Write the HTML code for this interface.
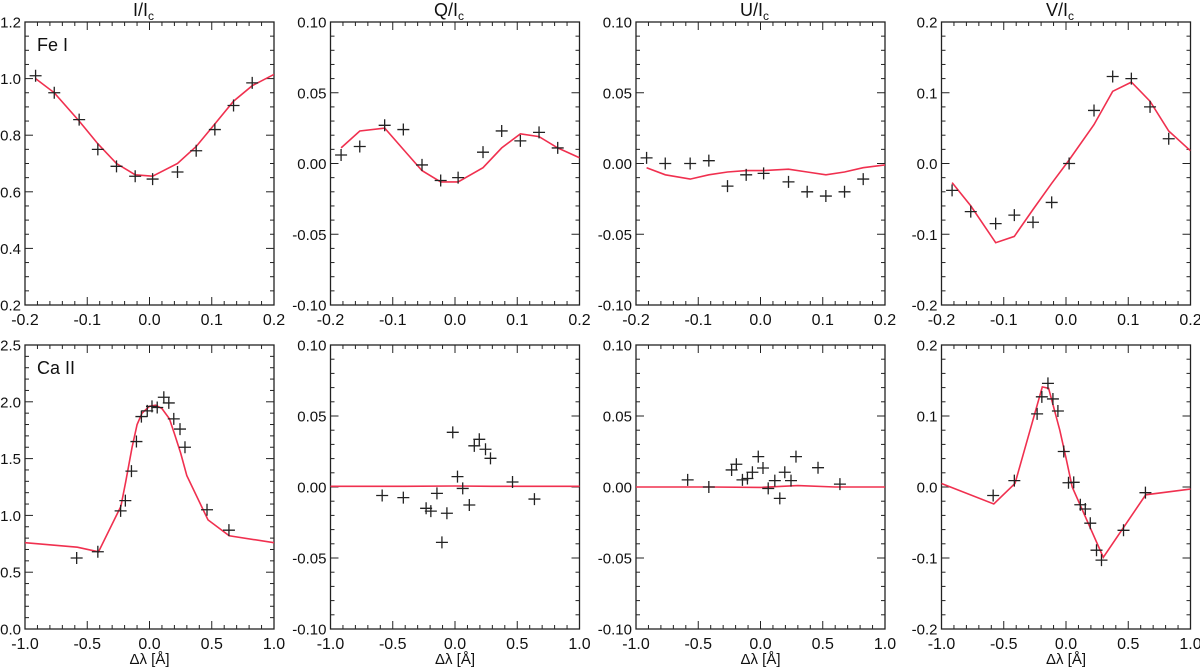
<!DOCTYPE html>
<html><head><meta charset="utf-8"><style>
html,body{margin:0;padding:0;background:#fff}
svg{display:block;font-family:"Liberation Sans",sans-serif}
</style></head><body>
<svg id="c" width="1200" height="668" xmlns="http://www.w3.org/2000/svg"></svg>
<script>
const feX=[-0.183,-0.153,-0.113,-0.083,-0.053,-0.023,0.005,0.045,0.075,0.105,0.135,0.165];
const feFitX=[-0.183,-0.153,-0.113,-0.083,-0.053,-0.023,0.005,0.045,0.075,0.105,0.135,0.165,0.2];
const feIobs=[1.01,0.95,0.855,0.75,0.69,0.655,0.645,0.67,0.745,0.82,0.905,0.985];
const feIfit=[1.0,0.95,0.85,0.77,0.70,0.66,0.655,0.70,0.76,0.84,0.92,0.975,1.015];
const feQobs=[0.006,0.012,0.027,0.024,-0.001,-0.012,-0.010,0.008,0.023,0.016,0.022,0.011];
const feQfit=[0.011,0.023,0.025,0.010,-0.005,-0.013,-0.013,-0.003,0.011,0.021,0.019,0.011,0.004];
const feUobs=[0.004,0.0,0.0,0.002,-0.016,-0.008,-0.007,-0.013,-0.020,-0.023,-0.020,-0.011];
const feUfit=[-0.003,-0.008,-0.011,-0.008,-0.006,-0.005,-0.005,-0.004,-0.006,-0.008,-0.006,-0.003,-0.001];
const feVobs=[-0.038,-0.068,-0.085,-0.073,-0.083,-0.055,0.0,0.075,0.123,0.12,0.08,0.035];
const feVfit=[-0.027,-0.06,-0.112,-0.103,-0.065,-0.028,0.005,0.055,0.102,0.115,0.088,0.046,0.018];
const caX=[-0.585,-0.415,-0.232,-0.194,-0.145,-0.105,-0.065,-0.018,0.02,0.062,0.115,0.155,0.195,0.245,0.285,0.462,0.638];
const caIobs=[0.625,0.68,1.04,1.13,1.39,1.65,1.87,1.92,1.96,1.95,2.04,1.99,1.85,1.76,1.60,1.05,0.87];
const caIfitX=[-1,-0.58,-0.41,-0.23,-0.19,-0.14,-0.1,-0.06,0.0,0.05,0.1,0.16,0.2,0.25,0.3,0.47,0.64,1];
const caIfit=[0.76,0.72,0.68,1.08,1.3,1.6,1.8,1.9,1.96,1.97,1.94,1.85,1.72,1.55,1.35,0.96,0.82,0.76];
const caQobs=[-0.006,-0.0075,-0.015,-0.017,-0.0045,-0.039,-0.0185,0.0385,0.0073,-0.001,-0.0127,0.029,0.0336,0.0266,0.0202,0.0035,-0.0085];
const caQfitX=[-1,-0.4,0,0.3,1];
const caQfit=[0.0005,0.0005,0.0007,0.0005,0.0005];
const caUobs=[0.005,0,0.012,0.016,0.005,0.006,0.0104,0.0214,0.0134,-0.001,0.0045,-0.008,0.0104,0.0045,0.0214,0.0136,0.002];
const caUfitX=[-1,-0.4,0,0.3,0.6,1];
const caUfit=[0.0,0.0,-0.0003,0.001,0.0,0.0];
const caVobs=[-0.012,0.009,0.103,0.127,0.146,0.124,0.107,0.05,0.006,0.0066,-0.025,-0.031,-0.051,-0.089,-0.103,-0.061,-0.008];
const caVfitX=[-1,-0.58,-0.41,-0.19,-0.14,-0.05,0.0,0.05,0.3,0.64,1];
const caVfit=[0.005,-0.024,0.005,0.141,0.139,0.08,0.041,0.0,-0.099,-0.011,-0.003];

const NS="http://www.w3.org/2000/svg";
const svg=document.getElementById('c');
function mk(tag,attrs,parent){const e=document.createElementNS(NS,tag);for(const k in attrs)e.setAttribute(k,attrs[k]);(parent||svg).appendChild(e);return e;}
const lefts=[25,330.5,636,941.5];const W=249;
const rows=[{top:22,bot:305},{top:345,bot:629}];
const panels=[
 {r:0,c:0,xr:[-0.2,0.2],xs:0.1,xm:0.02,yr:[0.2,1.2],ys:0.2,ym:0.05,yd:1,ox:feX,oy:feIobs,fx:feFitX,fy:feIfit,title:'I',label:'Fe I',n:'fe-i'},
 {r:0,c:1,xr:[-0.2,0.2],xs:0.1,xm:0.02,yr:[-0.1,0.1],ys:0.05,ym:0.01,yd:2,ox:feX,oy:feQobs,fx:feFitX,fy:feQfit,title:'Q',n:'fe-q'},
 {r:0,c:2,xr:[-0.2,0.2],xs:0.1,xm:0.02,yr:[-0.1,0.1],ys:0.05,ym:0.01,yd:2,ox:feX,oy:feUobs,fx:feFitX,fy:feUfit,title:'U',n:'fe-u'},
 {r:0,c:3,xr:[-0.2,0.2],xs:0.1,xm:0.02,yr:[-0.2,0.2],ys:0.1,ym:0.02,yd:1,ox:feX,oy:feVobs,fx:feFitX,fy:feVfit,title:'V',n:'fe-v'},
 {r:1,c:0,xr:[-1,1],xs:0.5,xm:0.1,yr:[0,2.5],ys:0.5,ym:0.1,yd:1,ox:caX,oy:caIobs,fx:caIfitX,fy:caIfit,label:'Ca II',n:'ca-i'},
 {r:1,c:1,xr:[-1,1],xs:0.5,xm:0.1,yr:[-0.1,0.1],ys:0.05,ym:0.01,yd:2,ox:caX,oy:caQobs,fx:caQfitX,fy:caQfit,n:'ca-q'},
 {r:1,c:2,xr:[-1,1],xs:0.5,xm:0.1,yr:[-0.1,0.1],ys:0.05,ym:0.01,yd:2,ox:caX,oy:caUobs,fx:caUfitX,fy:caUfit,n:'ca-u'},
 {r:1,c:3,xr:[-1,1],xs:0.5,xm:0.1,yr:[-0.2,0.2],ys:0.1,ym:0.02,yd:1,ox:caX,oy:caVobs,fx:caVfitX,fy:caVfit,n:'ca-v'}
];
panels.forEach(p=>{
 const x0=lefts[p.c],x1=x0+W,y0=rows[p.r].top,y1=rows[p.r].bot;
 const sx=v=>x0+(v-p.xr[0])/(p.xr[1]-p.xr[0])*W;
 const sy=v=>y1-(v-p.yr[0])/(p.yr[1]-p.yr[0])*(y1-y0);
 const g=mk('g',{});
 
 
 const nxm=Math.round((p.xr[1]-p.xr[0])/p.xm);
 for(let i=0;i<=nxm;i++){const v=p.xr[0]+i*p.xm;const X=sx(v);const maj=Math.abs(v/p.xs-Math.round(v/p.xs))<1e-6;const L=maj?8:4;
  mk('line',{x1:X,y1:y1,x2:X,y2:y1-L,stroke:'#222','stroke-width':1},g);
  mk('line',{x1:X,y1:y0,x2:X,y2:y0+L,stroke:'#222','stroke-width':1},g);
  if(maj){const t=mk('text',{x:X,y:y1+20,'text-anchor':'middle','font-size':16,fill:'#111'},g);t.textContent=v.toFixed(1).replace('-0.0','0.0');
   }
 }
 const nym=Math.round((p.yr[1]-p.yr[0])/p.ym);
 for(let i=0;i<=nym;i++){const v=p.yr[0]+i*p.ym;const Y=sy(v);const maj=Math.abs(v/p.ys-Math.round(v/p.ys))<1e-6;const L=maj?8:4;
  mk('line',{x1:x0,y1:Y,x2:x0+L,y2:Y,stroke:'#222','stroke-width':1},g);
  mk('line',{x1:x1,y1:Y,x2:x1-L,y2:Y,stroke:'#222','stroke-width':1},g);
  if(maj){const t=mk('text',{x:x0-4,y:Y+5.5,'text-anchor':'end','font-size':15,fill:'#111'},g);let s=v.toFixed(p.yd);if(parseFloat(s)===0)s=(0).toFixed(p.yd);t.textContent=s;
   }
 }
 const fr=mk('rect',{x:x0,y:y0,width:W,height:y1-y0,fill:'none',stroke:'#222','stroke-width':1.3},g);
 
 const cid='clip'+p.n;const cp=mk('clipPath',{id:cid},g);mk('rect',{x:x0,y:y0,width:W,height:y1-y0},cp);
 const pts=p.fx.map((v,i)=>sx(v).toFixed(1)+','+sy(p.fy[i]).toFixed(1)).join(' ');
 const pl=mk('polyline',{points:pts,fill:'none',stroke:'#f0304f','stroke-width':1.6,'clip-path':'url(#'+cid+')'},g);
 
 p.ox.forEach((v,i)=>{const X=sx(v),Y=sy(p.oy[i]);
  const m=mk('path',{d:`M${X-6},${Y}H${X+6}M${X},${Y-6}V${Y+6}`,stroke:'#222','stroke-width':1.3,fill:'none'},g);
  });
 if(p.title){const t=mk('text',{x:x0+W/2-6,y:16,'text-anchor':'middle','font-size':18,fill:'#111'},g);
  t.innerHTML=p.title+'/I<tspan font-size="12" dy="4">c</tspan>';
  }
 if(p.label){const t=mk('text',{x:x0+12,y:y0+29,'font-size':18,fill:'#111'},g);t.textContent=p.label;
  }
 if(p.r===1){const t=mk('text',{x:x0+W/2,y:664,'text-anchor':'middle','font-size':15,fill:'#111'},g);t.textContent='Δλ [Å]';
  }
});
</script>
</body></html>
